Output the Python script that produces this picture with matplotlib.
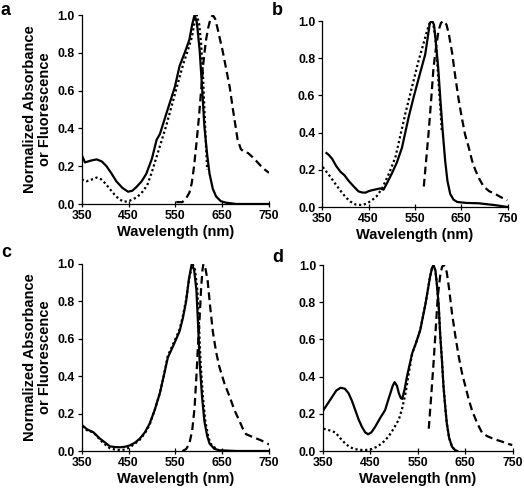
import matplotlib
matplotlib.use("Agg")
import matplotlib.pyplot as plt

plt.rcParams['font.family'] = ['Liberation Sans', 'DejaVu Sans']
plt.rcParams['font.weight'] = 'bold'

# ---- Panel a ----
a_abs_x = [350, 357, 370, 382, 393, 403, 414, 424, 437, 449, 458, 467, 478, 488, 500, 510, 517, 531, 549, 559, 570, 580, 586, 591, 596, 602, 607, 612, 618, 623, 630, 637, 647, 658, 680, 750]
a_abs_y = [0.26, 0.22, 0.23, 0.236, 0.225, 0.20, 0.16, 0.12, 0.085, 0.065, 0.07, 0.09, 0.12, 0.16, 0.24, 0.34, 0.37, 0.48, 0.62, 0.73, 0.80, 0.87, 0.95, 1.0, 0.96, 0.81, 0.62, 0.41, 0.26, 0.16, 0.08, 0.04, 0.015, 0.007, 0.0, 0.0]
a_exc_x = [350, 360, 372, 382, 392, 400, 410, 420, 430, 440, 450, 460, 470, 480, 490, 500, 510, 520, 530, 540, 550, 560, 568, 575, 580, 585, 591, 596, 601, 605, 609, 612, 615, 618]
a_exc_y = [0.13, 0.12, 0.13, 0.14, 0.13, 0.11, 0.08, 0.05, 0.025, 0.012, 0.015, 0.025, 0.04, 0.065, 0.10, 0.17, 0.25, 0.33, 0.41, 0.50, 0.59, 0.68, 0.75, 0.80, 0.84, 0.88, 0.96, 1.0, 0.95, 0.85, 0.68, 0.50, 0.33, 0.18]
a_em_x = [552, 565, 573, 580, 585, 590, 595, 600, 605, 610, 615, 620, 625, 630, 635, 640, 651, 666, 673, 683, 690, 697, 705, 714, 722, 733, 742, 750]
a_em_y = [0.01, 0.01, 0.03, 0.06, 0.11, 0.20, 0.32, 0.45, 0.60, 0.75, 0.86, 0.93, 0.98, 1.0, 0.98, 0.93, 0.81, 0.62, 0.50, 0.34, 0.29, 0.275, 0.27, 0.25, 0.23, 0.20, 0.18, 0.165]

# ---- Panel b ----
b_abs_x = [359, 364, 371, 380, 389, 398, 407, 418, 428, 436, 443, 450, 457, 466, 475, 482, 490, 500, 511, 522, 536, 547, 561, 572, 578, 582, 587, 591, 594, 600, 605, 610, 615, 620, 626, 633, 641, 660, 687, 705, 723, 750]
b_abs_y = [0.29, 0.28, 0.26, 0.22, 0.19, 0.17, 0.14, 0.11, 0.084, 0.078, 0.077, 0.085, 0.09, 0.095, 0.10, 0.093, 0.13, 0.18, 0.24, 0.32, 0.48, 0.59, 0.72, 0.82, 0.92, 0.99, 1.0, 0.98, 0.91, 0.75, 0.57, 0.40, 0.25, 0.14, 0.07, 0.04, 0.027, 0.022, 0.02, 0.015, 0.01, 0.0]
b_exc_x = [351, 365, 378, 390, 400, 410, 421, 436, 447, 457, 468, 479, 494, 508, 518, 529, 540, 551, 558, 565, 573, 580, 585, 589, 594, 598, 601, 605, 608]
b_exc_y = [0.215, 0.17, 0.125, 0.085, 0.054, 0.03, 0.014, 0.01, 0.02, 0.036, 0.06, 0.10, 0.18, 0.27, 0.38, 0.50, 0.61, 0.72, 0.79, 0.85, 0.92, 0.98, 1.0, 0.99, 0.91, 0.78, 0.66, 0.52, 0.40]
b_em_x = [569, 574, 579, 585, 590, 596, 601, 606, 612, 618, 623, 630, 637, 644, 651, 658, 666, 673, 680, 689, 698, 710, 723, 736, 749]
b_em_y = [0.11, 0.25, 0.39, 0.58, 0.75, 0.87, 0.95, 0.99, 1.0, 0.98, 0.93, 0.83, 0.70, 0.58, 0.48, 0.39, 0.32, 0.25, 0.20, 0.15, 0.11, 0.085, 0.07, 0.052, 0.036]

# ---- Panel c ----
c_abs_x = [350, 362, 375, 389, 400, 410, 421, 432, 443, 453, 464, 474, 485, 495, 506, 517, 526, 534, 545, 559, 566, 573, 579, 585, 590, 595, 599, 602, 607, 612, 618, 623, 633, 644, 680, 750]
c_abs_y = [0.14, 0.115, 0.10, 0.066, 0.045, 0.025, 0.021, 0.02, 0.023, 0.03, 0.045, 0.066, 0.10, 0.146, 0.22, 0.31, 0.41, 0.50, 0.56, 0.64, 0.71, 0.80, 0.92, 1.0, 0.97, 0.86, 0.65, 0.47, 0.29, 0.16, 0.08, 0.04, 0.012, 0.004, 0.0, 0.0]
c_exc_x = [350, 362, 375, 389, 400, 410, 421, 432, 443, 453, 464, 474, 485, 495, 506, 517, 526, 534, 545, 559, 566, 573, 580, 587, 592, 597, 601, 604, 609, 614, 620, 625, 640]
c_exc_y = [0.13, 0.11, 0.10, 0.06, 0.035, 0.015, 0.008, 0.005, 0.008, 0.02, 0.04, 0.06, 0.095, 0.14, 0.22, 0.31, 0.41, 0.51, 0.57, 0.65, 0.72, 0.81, 0.93, 1.0, 0.97, 0.86, 0.65, 0.47, 0.29, 0.16, 0.08, 0.04, 0.004]
c_em_x = [565, 573, 580, 586, 591, 595, 598, 602, 605, 608, 610, 614, 619, 624, 630, 637, 644, 655, 666, 676, 687, 694, 701, 715, 733, 750]
c_em_y = [0.0, 0.01, 0.04, 0.11, 0.23, 0.40, 0.55, 0.72, 0.87, 0.97, 1.0, 0.98, 0.91, 0.78, 0.64, 0.53, 0.45, 0.36, 0.29, 0.22, 0.16, 0.12, 0.09, 0.075, 0.057, 0.035]

# ---- Panel d ----
d_abs_x = [351, 360, 369, 378, 387, 396, 404, 411, 418, 425, 432, 439, 445, 452, 460, 470, 481, 487, 492, 497, 501, 506, 510, 514, 517, 522, 527, 538, 546, 555, 566, 572, 576, 580, 583, 587, 590, 594, 597, 601, 604, 608, 611, 616, 622, 628, 633]
d_abs_y = [0.22, 0.255, 0.29, 0.325, 0.34, 0.335, 0.31, 0.27, 0.22, 0.17, 0.13, 0.10, 0.09, 0.10, 0.13, 0.175, 0.22, 0.27, 0.31, 0.35, 0.37, 0.35, 0.31, 0.285, 0.28, 0.33, 0.40, 0.525, 0.58, 0.65, 0.79, 0.88, 0.94, 0.985, 1.0, 0.97, 0.90, 0.78, 0.63, 0.48, 0.35, 0.23, 0.15, 0.07, 0.023, 0.006, 0.0]
d_exc_x = [351, 365, 376, 386, 397, 407, 418, 428, 439, 452, 464, 476, 488, 499, 510, 517, 524, 531, 538, 546, 555, 566, 572, 576, 580, 583, 587, 590, 594, 597, 601, 604, 608, 611, 616, 622, 628, 633]
d_exc_y = [0.12, 0.11, 0.10, 0.07, 0.04, 0.02, 0.01, 0.006, 0.005, 0.01, 0.023, 0.045, 0.077, 0.12, 0.17, 0.23, 0.31, 0.42, 0.525, 0.58, 0.65, 0.79, 0.88, 0.94, 0.985, 1.0, 0.97, 0.90, 0.78, 0.63, 0.48, 0.35, 0.23, 0.15, 0.07, 0.023, 0.006, 0.0]
d_em_x = [573, 578, 583, 588, 592, 597, 601, 604, 608, 611, 616, 622, 629, 636, 643, 650, 657, 664, 675, 685, 696, 707, 718, 728, 738, 749]
d_em_y = [0.12, 0.29, 0.47, 0.67, 0.83, 0.94, 0.99, 1.0, 0.99, 0.96, 0.87, 0.74, 0.62, 0.51, 0.42, 0.35, 0.28, 0.22, 0.15, 0.10, 0.08, 0.068, 0.058, 0.05, 0.04, 0.032]

x_ticks = [350, 450, 550, 650, 750]
y_ticks = [0.0, 0.2, 0.4, 0.6, 0.8, 1.0]
panel_letters = ['a', 'b', 'c', 'd']
y_label = "Normalized Absorbance\nor Fluorescence"
x_label = "Wavelength (nm)"

W, H = 524, 494
fig = plt.figure(figsize=(W / 100, H / 100), dpi=100)

# axes boxes in pixels: left, right, top, bottom
boxes = [(81.7, 269, 15, 204), (322.3, 507.7, 21, 207), (81.7, 269, 264, 451), (323, 512.7, 265, 451)]
data = [
    (a_abs_x, a_abs_y, a_exc_x, a_exc_y, a_em_x, a_em_y),
    (b_abs_x, b_abs_y, b_exc_x, b_exc_y, b_em_x, b_em_y),
    (c_abs_x, c_abs_y, c_exc_x, c_exc_y, c_em_x, c_em_y),
    (d_abs_x, d_abs_y, d_exc_x, d_exc_y, d_em_x, d_em_y),
]
letter_pos = [(0.5, 15), (272, 15), (1, 257), (272, 262)]

for i, ((l, r, t, b), d) in enumerate(zip(boxes, data)):
    ax = fig.add_axes([l / W, 1 - b / H, (r - l) / W, (b - t) / H])
    ax.plot(d[2], d[3], color='black', lw=1.6, linestyle=(0, (1, 1.2)))
    ax.plot(d[0], d[1], color='black', lw=1.6, linestyle='-')
    ax.plot(d[4], d[5], color='black', lw=1.6, linestyle=(0, (3.5, 2)))
    ax.set_xlim(350, 750)
    ax.set_ylim(0, 1.0)
    ax.set_xticks(x_ticks)
    ax.set_yticks(y_ticks)
    ax.set_yticklabels([f"{v:.1f}" for v in y_ticks])
    for s in ['top', 'right']:
        ax.spines[s].set_visible(False)
    for s in ['left', 'bottom']:
        ax.spines[s].set_linewidth(0.9)
    ax.tick_params(axis='x', direction='inout', length=5, width=0.9, labelsize=8.8, pad=2)
    ax.tick_params(axis='y', direction='out', length=3, width=0.9, labelsize=8.8, pad=2)
    for lab in ax.get_xticklabels() + ax.get_yticklabels():
        lab.set_fontweight('bold')
    ax.set_xlabel(x_label, fontsize=10.5, fontweight='bold', labelpad=2)
    if i in (0, 2):
        ax.set_ylabel(y_label, fontsize=10.5, fontweight='bold', labelpad=4, linespacing=1.1)
    fig.text(letter_pos[i][0] / W, 1 - letter_pos[i][1] / H, panel_letters[i],
             fontsize=13, fontweight='bold', va='baseline', ha='left')

fig.savefig("out.png", dpi=100)
